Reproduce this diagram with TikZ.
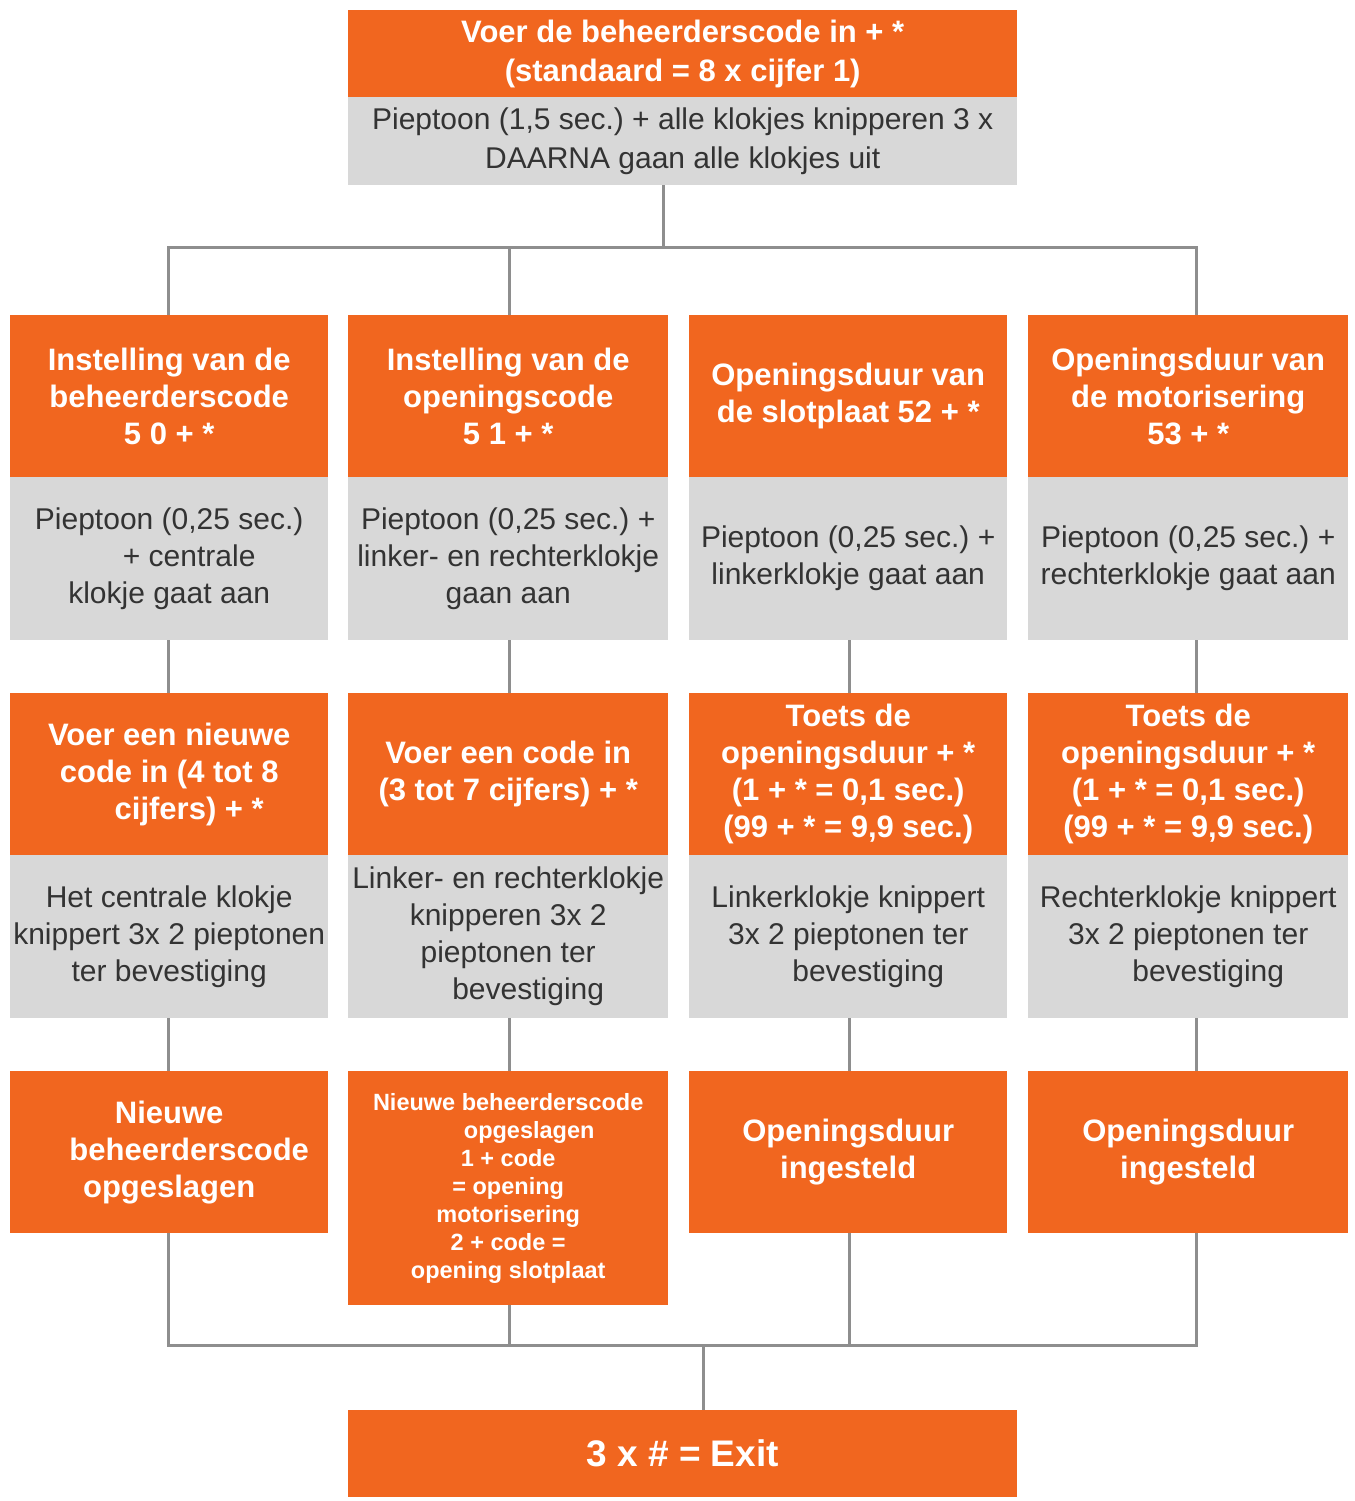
\documentclass[tikz,border=0pt]{standalone}
\usepackage{fontspec}
\setmainfont{Liberation Sans}
\frenchspacing
\definecolor{orng}{HTML}{F1661F}
\definecolor{gryfill}{HTML}{D8D8D8}
\definecolor{gryline}{HTML}{8E8E8E}
\definecolor{txtdark}{HTML}{333333}
\newcommand\obf{\fontsize{31}{37}\selectfont\bfseries}
\newcommand\greg{\fontsize{30}{37}\selectfont}
\begin{document}
\begin{tikzpicture}[x=1pt,y=-1pt,
  obox/.style={anchor=north west, fill=orng, text=white, inner sep=0pt, align=center, font=\obf},
  gbox/.style={anchor=north west, fill=gryfill, text=txtdark, inner sep=0pt, align=center, font=\greg},
  conn/.style={draw=gryline, line width=3pt}]
\useasboundingbox (0,0) rectangle (1354,1501);
\fill[white] (0,0) rectangle (1354,1501);
% top
\node[obox, minimum width=669pt, minimum height=87pt, font=\fontsize{31}{39}\selectfont\bfseries] (topo) at (348,10) {Voer de beheerderscode in + *\\(standaard = 8 x cijfer 1)};
\node[gbox, minimum width=669pt, minimum height=88pt, font=\fontsize{30}{39}\selectfont] (topg) at (348,97) {Pieptoon (1,5 sec.) + alle klokjes knipperen 3 x\\DAARNA gaan alle klokjes uit};
% row 1 orange
\node[obox, minimum width=318pt, minimum height=162pt] (oa1) at (10,315) {Instelling van de\\beheerderscode\\5 0 + *};
\node[obox, minimum width=320pt, minimum height=162pt] (ob1) at (348,315) {Instelling van de\\openingscode\\5 1 + *};
\node[obox, minimum width=318pt, minimum height=162pt] (oc1) at (689,315) {Openingsduur van\\de slotplaat 52 + *};
\node[obox, minimum width=320pt, minimum height=162pt] (od1) at (1028,315) {Openingsduur van\\de motorisering\\53 + *};
% row 1 gray
\node[gbox, minimum width=318pt, minimum height=163pt] (ga1) at (10,477) {Pieptoon (0,25 sec.)\\\hspace*{40pt}+ centrale\\klokje gaat aan};
\node[gbox, minimum width=320pt, minimum height=163pt] (gb1) at (348,477) {Pieptoon (0,25 sec.) +\\linker- en rechterklokje\\gaan aan};
\node[gbox, minimum width=318pt, minimum height=163pt] (gc1) at (689,477) {Pieptoon (0,25 sec.) +\\linkerklokje gaat aan};
\node[gbox, minimum width=320pt, minimum height=163pt] (gd1) at (1028,477) {Pieptoon (0,25 sec.) +\\rechterklokje gaat aan};
% row 2 orange
\node[obox, minimum width=318pt, minimum height=162pt] (oa2) at (10,693) {Voer een nieuwe\\code in (4 tot 8\\\hspace*{40pt}cijfers) + *};
\node[obox, minimum width=320pt, minimum height=162pt] (ob2) at (348,693) {Voer een code in\\(3 tot 7 cijfers) + *};
\node[obox, minimum width=318pt, minimum height=162pt] (oc2) at (689,693) {Toets de\\openingsduur + *\\(1 + * = 0,1 sec.)\\(99 + * = 9,9 sec.)};
\node[obox, minimum width=320pt, minimum height=162pt] (od2) at (1028,693) {Toets de\\openingsduur + *\\(1 + * = 0,1 sec.)\\(99 + * = 9,9 sec.)};
% row 2 gray
\node[gbox, minimum width=318pt, minimum height=163pt] (ga2) at (10,855) {Het centrale klokje\\knippert 3x 2 pieptonen\\ter bevestiging};
\node[gbox, minimum width=320pt, minimum height=163pt] (gb2) at (348,855) {Linker- en rechterklokje\\knipperen 3x 2\\pieptonen ter\\\hspace*{40pt}bevestiging};
\node[gbox, minimum width=318pt, minimum height=163pt] (gc2) at (689,855) {Linkerklokje knippert\\3x 2 pieptonen ter\\\hspace*{40pt}bevestiging};
\node[gbox, minimum width=320pt, minimum height=163pt] (gd2) at (1028,855) {Rechterklokje knippert\\3x 2 pieptonen ter\\\hspace*{40pt}bevestiging};
% row 3
\node[obox, minimum width=318pt, minimum height=162pt] (oa3) at (10,1071) {Nieuwe\\\hspace*{40pt}beheerderscode\\opgeslagen};
\node[obox, minimum width=320pt, minimum height=234pt, font=\fontsize{23.5}{28}\selectfont\bfseries] (ob3) at (348,1071) {Nieuwe beheerderscode\\\hspace*{42pt}opgeslagen\\1 + code\\= opening\\motorisering\\2 + code =\\opening slotplaat};
\node[obox, minimum width=318pt, minimum height=162pt] (oc3) at (689,1071) {Openingsduur\\ingesteld};
\node[obox, minimum width=320pt, minimum height=162pt] (od3) at (1028,1071) {Openingsduur\\ingesteld};
% exit
\node[obox, minimum width=669pt, minimum height=87pt, font=\fontsize{37}{40}\selectfont\bfseries] (exit) at (348,1410) {3 x \# = Exit};
% connector coordinates
\coordinate (x1) at (168,0);
\coordinate (x2) at (509,0);
\coordinate (x3) at (849,0);
\coordinate (x4) at (1196,0);
\coordinate (hubtop) at (663,247);
\coordinate (hubbot) at (703,1345);
% top connectors
\draw[conn] (topg.south -| hubtop) -- (hubtop);
\draw[conn] (oa1.north -| x1) |- (hubtop) -| (od1.north -| x4);
\draw[conn] (ob1.north -| x2) -- (x2 |- hubtop);
% row1 -> row2
\draw[conn] (ga1.south -| x1) -- (oa2.north -| x1);
\draw[conn] (gb1.south -| x2) -- (ob2.north -| x2);
\draw[conn] (gc1.south -| x3) -- (oc2.north -| x3);
\draw[conn] (gd1.south -| x4) -- (od2.north -| x4);
% row2 -> row3
\draw[conn] (ga2.south -| x1) -- (oa3.north -| x1);
\draw[conn] (gb2.south -| x2) -- (ob3.north -| x2);
\draw[conn] (gc2.south -| x3) -- (oc3.north -| x3);
\draw[conn] (gd2.south -| x4) -- (od3.north -| x4);
% bottom connectors
\draw[conn] (oa3.south -| x1) |- (hubbot) -| (od3.south -| x4);
\draw[conn] (ob3.south -| x2) -- (x2 |- hubbot);
\draw[conn] (oc3.south -| x3) -- (x3 |- hubbot);
\draw[conn] (hubbot) -- (exit.north -| hubbot);
\end{tikzpicture}
\end{document}
